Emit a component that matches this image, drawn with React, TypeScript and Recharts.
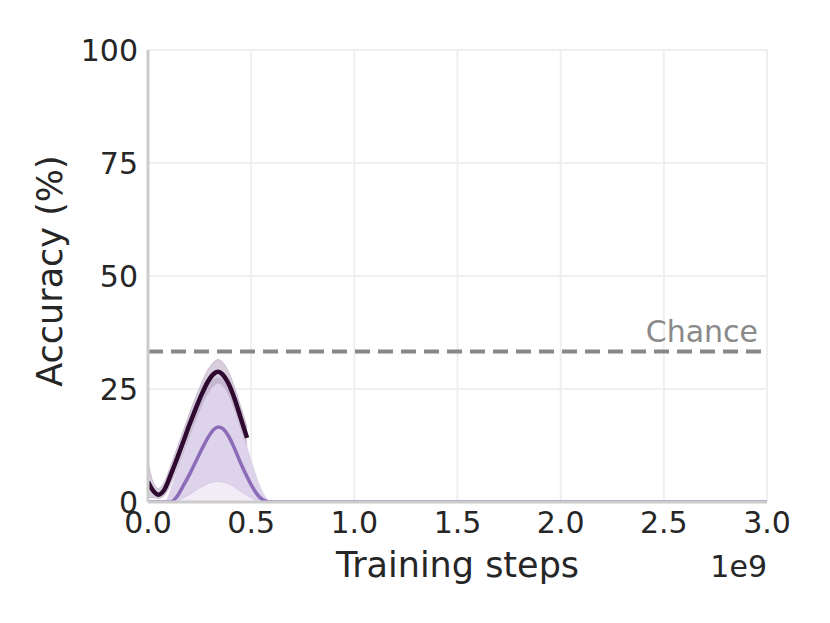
import {
  Area,
  CartesianGrid,
  ComposedChart,
  Line,
  ReferenceLine,
  XAxis,
  YAxis,
} from "recharts";

// training steps in units of 1e9
const steps = [
  0, 0.02, 0.05, 0.08, 0.11, 0.14, 0.17, 0.2, 0.23, 0.26, 0.29, 0.32, 0.34,
  0.36, 0.39, 0.42, 0.45, 0.48, 0.51, 0.54, 0.57, 0.6, 1.0, 1.5, 2.0, 2.5, 3.0,
];

const darkMean = [
  4.5, 2.8, 1.6, 2.8, 6.0, 9.5, 13.2, 17.0, 20.5, 23.8, 26.6, 28.4, 28.8,
  28.3, 26.2, 22.8, 18.5, 14.2,
];
const darkLow = [
  1.0, 1.0, 0.8, 1.5, 4.0, 7.3, 10.8, 14.5, 18.0, 21.3, 24.0, 25.8, 26.3,
  25.8, 23.8, 20.5, 16.3, 12.5,
];
const darkHigh = [
  9.0, 5.0, 3.0, 4.5, 8.0, 11.8, 15.6, 19.5, 23.0, 26.3, 29.2, 31.0, 31.5,
  31.0, 28.8, 25.3, 21.0, 16.5,
];

const lightMean = [
  0, 0, 0, 0, 0, 1.2, 3.5, 6.0, 8.8, 11.6, 14.2, 16.1, 16.6, 16.3, 14.6, 11.8,
  8.5, 5.6, 3.0, 1.1, 0.2, 0, 0, 0, 0, 0, 0,
];
const lightLow = [
  0, 0, 0, 0, 0, 0.3, 1.0, 1.8, 2.7, 3.5, 4.2, 4.6, 4.7, 4.6, 4.2, 3.4, 2.5,
  1.6, 0.8, 0.3, 0, 0, 0, 0, 0, 0, 0,
];
const lightHigh = [
  0, 0, 0, 0, 3, 7, 11, 15, 19, 22.5, 25.5, 27.2, 27.6, 27.2, 25, 21.5, 17,
  12.5, 8, 4, 1.2, 0, 0, 0, 0, 0, 0,
];

const xTicks = [0, 0.5, 1.0, 1.5, 2.0, 2.5, 3.0];
const yTicks = [0, 25, 50, 75, 100];
const chance = 33.3;

const data = steps.map((x, i) => ({
  x,
  dark: i < darkMean.length ? darkMean[i] : null,
  darkBand: i < darkMean.length ? [darkLow[i], darkHigh[i]] : null,
  light: lightMean[i],
  lightLow: lightLow[i],
  lightBand: [lightLow[i], lightHigh[i]],
}));

const FONT = "'DejaVu Sans', sans-serif";

function XLabel({ viewBox }: any) {
  const { x, y, width } = viewBox;
  return (
    <g>
      <text
        x={x + width / 2}
        y={y + 75}
        textAnchor="middle"
        fontSize={35}
        fill="#262626"
        fontFamily={FONT}
      >
        Training steps
      </text>
      <text
        x={x + width}
        y={y + 75}
        textAnchor="end"
        fontSize={30}
        fill="#262626"
        fontFamily={FONT}
      >
        1e9
      </text>
    </g>
  );
}

function YLabel({ viewBox }: any) {
  const { y, height } = viewBox;
  const cy = y + height / 2 - 5;
  return (
    <text
      x={62}
      y={cy}
      transform={`rotate(-90, 62, ${cy})`}
      textAnchor="middle"
      fontSize={35}
      fill="#262626"
      fontFamily={FONT}
    >
      Accuracy (%)
    </text>
  );
}

function ChanceLabel({ viewBox }: any) {
  const { x, y, width } = viewBox;
  return (
    <text
      x={x + width - 9}
      y={y - 9}
      textAnchor="end"
      fontSize={30}
      fill="#8a8a8a"
      fontFamily={FONT}
    >
      Chance
    </text>
  );
}

export default function App() {
  return (
    <div style={{ position: "absolute", left: 0, top: 0, background: "#fff" }}>
      <ComposedChart
        width={830}
        height={623}
        data={data}
        margin={{ top: 50, right: 63, bottom: 0, left: 48 }}
        style={{ fontFamily: FONT }}
      >
        <CartesianGrid stroke="#efefef" strokeWidth={2} />
        <XAxis
          dataKey="x"
          type="number"
          domain={[0, 3]}
          ticks={xTicks}
          tickFormatter={(v: number) => v.toFixed(1)}
          tickLine={false}
          tickMargin={4}
          height={121}
          axisLine={{ stroke: "#cccccc", strokeWidth: 3 }}
          tick={{ fontSize: 30, fill: "#262626", fontFamily: FONT }}
          label={<XLabel />}
          allowDataOverflow
        />
        <YAxis
          type="number"
          domain={[0, 100]}
          ticks={yTicks}
          tickLine={false}
          tickMargin={4}
          width={100}
          axisLine={{ stroke: "#cccccc", strokeWidth: 3 }}
          tick={{ fontSize: 30, fill: "#262626", fontFamily: FONT }}
          label={<YLabel />}
          allowDataOverflow
        />
        <ReferenceLine
          y={chance}
          stroke="#888888"
          strokeWidth={4}
          strokeDasharray="15 8"
          label={<ChanceLabel />}
        />
        <Area
          type="monotone"
          dataKey="lightLow"
          stroke="#d8cce6"
          strokeWidth={2}
          fill="#f1ecf6"
          fillOpacity={1}
          isAnimationActive={false}
          dot={false}
          activeDot={false}
        />
        <Area
          type="monotone"
          dataKey="lightBand"
          stroke="none"
          fill="#ddd3ea"
          fillOpacity={1}
          isAnimationActive={false}
          dot={false}
          activeDot={false}
        />
        <Area
          type="monotone"
          dataKey="darkBand"
          stroke="#c9b9d2"
          strokeWidth={1}
          fill="#a895b4"
          fillOpacity={0.45}
          isAnimationActive={false}
          dot={false}
          activeDot={false}
        />
        <Line
          type="monotone"
          dataKey="light"
          stroke="#8c6bb8"
          strokeWidth={3.5}
          dot={false}
          activeDot={false}
          isAnimationActive={false}
        />
        <Line
          type="monotone"
          dataKey="dark"
          stroke="#2e0a30"
          strokeWidth={4.5}
          dot={false}
          activeDot={false}
          isAnimationActive={false}
        />
      </ComposedChart>
    </div>
  );
}
